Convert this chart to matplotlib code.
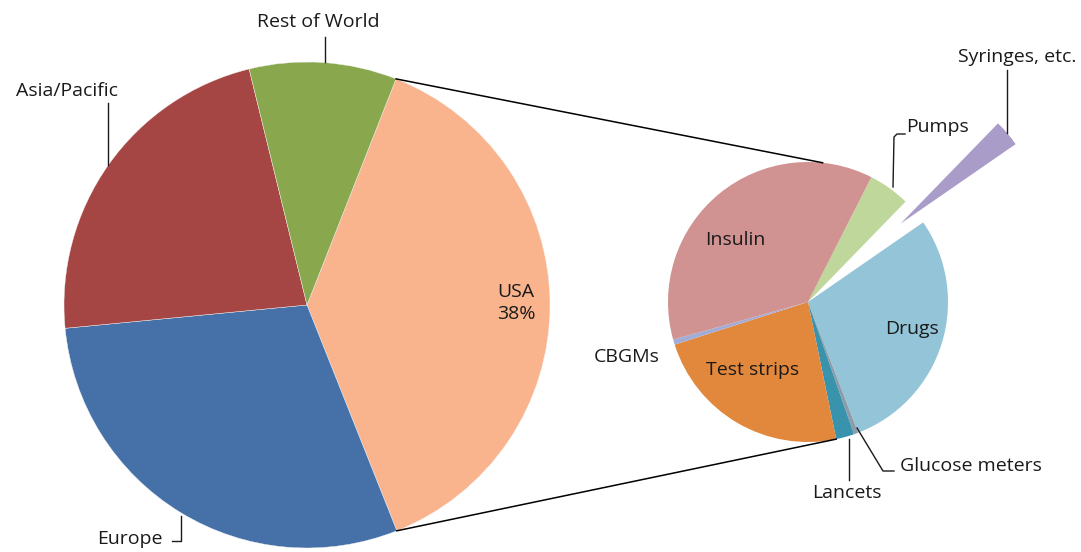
import numpy as np
import matplotlib
matplotlib.use("Agg")
from matplotlib import pyplot as plt

plt.rcParams['font.family'] = ['Open Sans', 'DejaVu Sans']

# world market split (clockwise from the USA slice)
regions = ["USA", "Europe", "Asia/Pacific", "Rest of World"]
region_share = [38.0, 29.5, 22.7, 9.8]
region_colors = ["#f9b48e", "#4571a8", "#a54644", "#89a74c"]

# USA market split (clockwise from Pumps)
products = ["Pumps", "Syringes, etc.", "Drugs", "Glucose meters", "Lancets",
            "Test strips", "CBGMs", "Insulin"]
product_share = [4.8, 3.1, 28.8, 0.5, 2.1, 23.3, 0.6, 36.8]
product_colors = ["#bfd79b", "#aa9cc9", "#93c4d7", "#8d9ca8", "#3a93ad",
                  "#e2883c", "#a3acd6", "#d09392"]

W, H = 1081, 552
fig = plt.figure(figsize=(W / 100, H / 100), dpi=100)
ax = fig.add_axes([0, 0, 1, 1])
ax.set_xlim(0, W)
ax.set_ylim(0, H)
ax.set_aspect('equal')
ax.axis('off')

def py(y):
    # flip so positions can be given top-down
    return H - y

big_c, big_r = (307, py(305)), 243
small_c, small_r = (808, py(302)), 140

big_wedges, _ = ax.pie(region_share, colors=region_colors, center=big_c,
                       radius=big_r, startangle=68.5, counterclock=False,
                       wedgeprops=dict(edgecolor="#f4f4f4", linewidth=0.3),
                       frame=True)

# pull the syringes slice well out of the pie (offset is in data units)
explode = [0, 0.865 * small_r, 0, 0, 0, 0, 0, 0]
small_wedges, _ = ax.pie(product_share, colors=product_colors, center=small_c,
                         radius=small_r, startangle=63.1, counterclock=False,
                         explode=explode, wedgeprops=dict(linewidth=0),
                         frame=True)
ax.set_xlim(0, W)
ax.set_ylim(0, H)
ax.axis('off')

def on_circle(c, r, ang):
    a = np.deg2rad(ang)
    return c[0] + r * np.cos(a), c[1] + r * np.sin(a)

# connector lines from the USA slice to the breakdown pie
usa = big_wedges[0]
strips = small_wedges[products.index("Test strips")]
p1 = on_circle(big_c, big_r, usa.theta2)
p2 = on_circle(small_c, small_r, 84)
p3 = on_circle(big_c, big_r, usa.theta1)
p4 = on_circle(small_c, small_r, strips.theta2)
ax.plot([p1[0], p2[0]], [p1[1], p2[1]], color="black", lw=1.1)
ax.plot([p3[0], p4[0]], [p3[1], p4[1]], color="black", lw=1.1)

txt = dict(fontsize=14, color="#1a1a1a", ha="center", va="center")
lead = dict(color="#1a1a1a", lw=1.0)

# labels for the world pie
ax.text(318, py(22), "Rest of World", **txt)
ax.plot([325, 325], [py(37), py(62)], **lead)
ax.text(67, py(91), "Asia/Pacific", **txt)
ax.plot([108, 108], [py(103), py(165)], **lead)
ax.text(130, py(539), "Europe", **txt)
ax.plot([181, 181, 172], [py(516), py(541), py(541)], **lead)
ax.text(516, py(303), "USA\n%d%%" % region_share[0], linespacing=1.3, **txt)

# labels for the USA pie
ax.text(735, py(240), "Insulin", **txt)
ax.text(912, py(329), "Drugs", **txt)
ax.text(753, py(370), "Test strips", **txt)
ax.text(627, py(357), "CBGMs", **txt)
ax.text(937, py(127), "Pumps", **txt)
ax.plot([893, 894, 897, 905], [py(187), py(137), py(134), py(134)], **lead)
ax.text(1017, py(57), "Syringes, etc.", **txt)
ax.plot([1007, 1007], [py(70), py(133)], **lead)
ax.text(971, py(466), "Glucose meters", **txt)
ax.plot([857, 883, 894], [py(428), py(471), py(471)], **lead)
ax.text(847, py(493), "Lancets", **txt)
ax.plot([849, 849], [py(439), py(480)], **lead)

fig.savefig("out.png", dpi=100)
